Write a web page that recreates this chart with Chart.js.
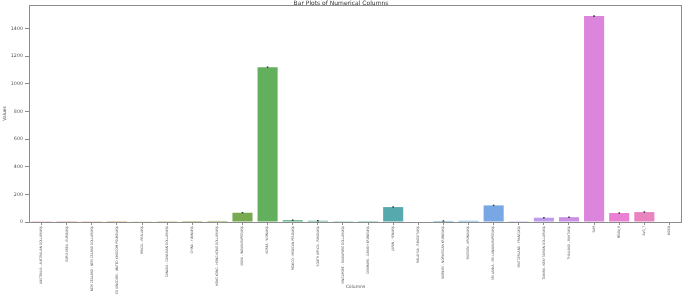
<!DOCTYPE html>
<html>
<head>
<meta charset="utf-8">
<script src="https://cdn.jsdelivr.net/npm/chart.js@4"></script>
<style>
  html, body { margin: 0; padding: 0; background: #fff; }
  #barsCanvas { display: block; }
</style>
</head>
<body>
<canvas id="barsCanvas" width="685" height="294"></canvas>
<script>
const columns = [
    "AUSTRALIA - AUSTRALIAN DOLLAR/US$", "EURO AREA - EURO/US$", "NEW ZEALAND - NEW ZELAND DOLLAR/US$",
    "UNITED KINGDOM - UNITED KINGDOM POUND/US$", "BRAZIL - REAL/US$", "CANADA - CANADIAN DOLLAR/US$",
    "CHINA - YUAN/US$", "HONG KONG - HONG KONG DOLLAR/US$", "INDIA - INDIAN RUPEE/US$", "KOREA - WON/US$",
    "MEXICO - MEXICAN PESO/US$", "SOUTH AFRICA - RAND/US$", "SINGAPORE - SINGAPORE DOLLAR/US$",
    "DENMARK - DANISH KRONE/US$", "JAPAN - YEN/US$", "MALAYSIA - RINGGIT/US$", "NORWAY - NORWEGIAN KRONE/US$",
    "SWEDEN - KRONA/US$", "SRI LANKA - SRI LANKAN RUPEE/US$", "SWITZERLAND - FRANC/US$",
    "TAIWAN - NEW TAIWAN DOLLAR/US$", "THAILAND - BAHT/US$", "SUM", "MEAN_R", "AVG_T", "INDEX"
];
const meanValues = [1.3, 0.9, 1.5, 0.6, 2.5, 1.3, 7.0, 7.8, 67, 1120, 13, 9, 1.5, 6.5, 108, 3.7, 7.5, 8.5, 120, 1.2, 31, 35, 1490, 65, 72, 0];
const errValues = [0, 0, 0, 0, 0, 0, 0, 0, 1.2, 3, 0.2, 0.1, 0, 0, 0.5, 0, 0.8, 0, 1.5, 0, 0.3, 0.3, 6, 0.5, 1.5, 0];
const yTicks = [0, 200, 400, 600, 800, 1000, 1200, 1400];

// seaborn-like husl palette, desaturated and a touch lighter
const huslAnchors = [[3.6, '#f77189'], [43.5, '#d58c32'], [48.5, '#ce9032'], [83.4, '#a4a031'], [93.3, '#97a431'],
    [123.3, '#50b131'], [138.2, '#32b166'], [163.2, '#34ae91'], [183.1, '#36ada4'], [203, '#37abb5'],
    [228, '#39a7d0'], [243, '#3ba3ec'], [272.8, '#a48cf4'], [282.9, '#bb83f4'], [317.7, '#f561dd'],
    [322.8, '#f564d4'], [363.6, '#f77189']];

function hexToRgb(h) {
    return [1, 3, 5].map(i => parseInt(h.slice(i, i + 2), 16) / 255);
}

function paletteColor(hue) {
    let k = 0;
    while (k < huslAnchors.length - 2 && huslAnchors[k + 1][0] < hue) k++;
    const [h0, c0] = huslAnchors[k], [h1, c1] = huslAnchors[k + 1];
    const t = (hue - h0) / (h1 - h0);
    const a = hexToRgb(c0), b = hexToRgb(c1);
    const rgb = a.map((v, i) => v + (b[i] - v) * t);
    const l = (Math.max(...rgb) + Math.min(...rgb)) / 2;
    return 'rgb(' + rgb.map(v => {
        const d = l + (v - l) * 0.8;
        return Math.round((d + (1 - d) * 0.1) * 255);
    }).join(',') + ')';
}

const barColors = columns.map((_, i) => paletteColor((i / columns.length + 0.01) * 359));

const errorBars = {
    id: 'errorBars',
    afterDatasetsDraw(chart) {
        const ctx = chart.ctx;
        const y = chart.scales.y;
        const meta = chart.getDatasetMeta(0);
        ctx.save();
        ctx.strokeStyle = '#3d3d3d';
        ctx.lineWidth = 1.6;
        meta.data.forEach((bar, i) => {
            const e = errValues[i];
            if (!e) return;
            let top = y.getPixelForValue(meanValues[i] + e);
            let bot = y.getPixelForValue(meanValues[i] - e);
            if (bot - top < 1.5) { const m = (top + bot) / 2; top = m - 0.75; bot = m + 0.75; }
            ctx.beginPath();
            ctx.moveTo(bar.x, top);
            ctx.lineTo(bar.x, bot);
            ctx.stroke();
        });
        ctx.restore();
    }
};

const frameBox = {
    id: 'frameBox',
    afterDraw(chart) {
        const a = chart.chartArea;
        const ctx = chart.ctx;
        ctx.save();
        ctx.strokeStyle = '#8c8c8c';
        ctx.lineWidth = 1;
        ctx.strokeRect(Math.round(a.left) + 0.5, Math.round(a.top) + 0.5,
            Math.round(a.right - a.left) - 1, Math.round(a.bottom - a.top));
        ctx.restore();
    }
};

const ctx = document.getElementById('barsCanvas').getContext('2d');

new Chart(ctx, {
    type: 'bar',
    data: {
        labels: columns,
        datasets: [{
            label: 'Values',
            data: meanValues,
            backgroundColor: barColors,
            borderWidth: 0,
            barPercentage: 0.8,
            categoryPercentage: 1.0
        }]
    },
    options: {
        responsive: false,
        animation: false,
        devicePixelRatio: 1,
        layout: { padding: { left: 0, right: 3, top: 0, bottom: 0 } },
        plugins: {
            legend: { display: false },
            tooltip: { enabled: false },
            title: {
                display: true,
                text: 'Bar Plots of Numerical Columns',
                color: '#333',
                font: { family: 'DejaVu Sans', size: 6, weight: 'normal', lineHeight: 1 },
                padding: { top: 0, bottom: -1 }
            }
        },
        scales: {
            x: {
                offset: true,
                border: { display: false },
                grid: { display: true, drawOnChartArea: false, offset: false, tickLength: 3, color: '#8c8c8c' },
                ticks: {
                    autoSkip: false,
                    maxRotation: 90,
                    minRotation: 90,
                    padding: 1,
                    color: '#555',
                    font: { family: "'Liberation Sans Narrow', 'DejaVu Sans Condensed', sans-serif", size: 3.3 }
                },
                title: {
                    display: true,
                    text: 'Columns',
                    color: '#555',
                    font: { family: 'DejaVu Sans', size: 4.5 },
                    padding: { top: 0, bottom: 4 }
                },
                afterFit(scale) { scale.height = 72; }
            },
            y: {
                min: 0,
                max: 1570,
                border: { display: false },
                grid: { display: true, drawOnChartArea: false, tickLength: 4, color: '#8c8c8c' },
                afterBuildTicks(scale) { scale.ticks = yTicks.map(v => ({ value: v })); },
                ticks: {
                    padding: 2,
                    color: '#555',
                    font: { family: 'DejaVu Sans', size: 4.8 },
                    callback: v => String(v)
                },
                title: {
                    display: true,
                    text: 'Values',
                    color: '#555',
                    font: { family: 'DejaVu Sans', size: 4.5 },
                    padding: { top: 2, bottom: 0 }
                },
                afterFit(scale) { scale.width = 29; }
            }
        }
    },
    plugins: [errorBars, frameBox]
});
</script>
</body>
</html>
